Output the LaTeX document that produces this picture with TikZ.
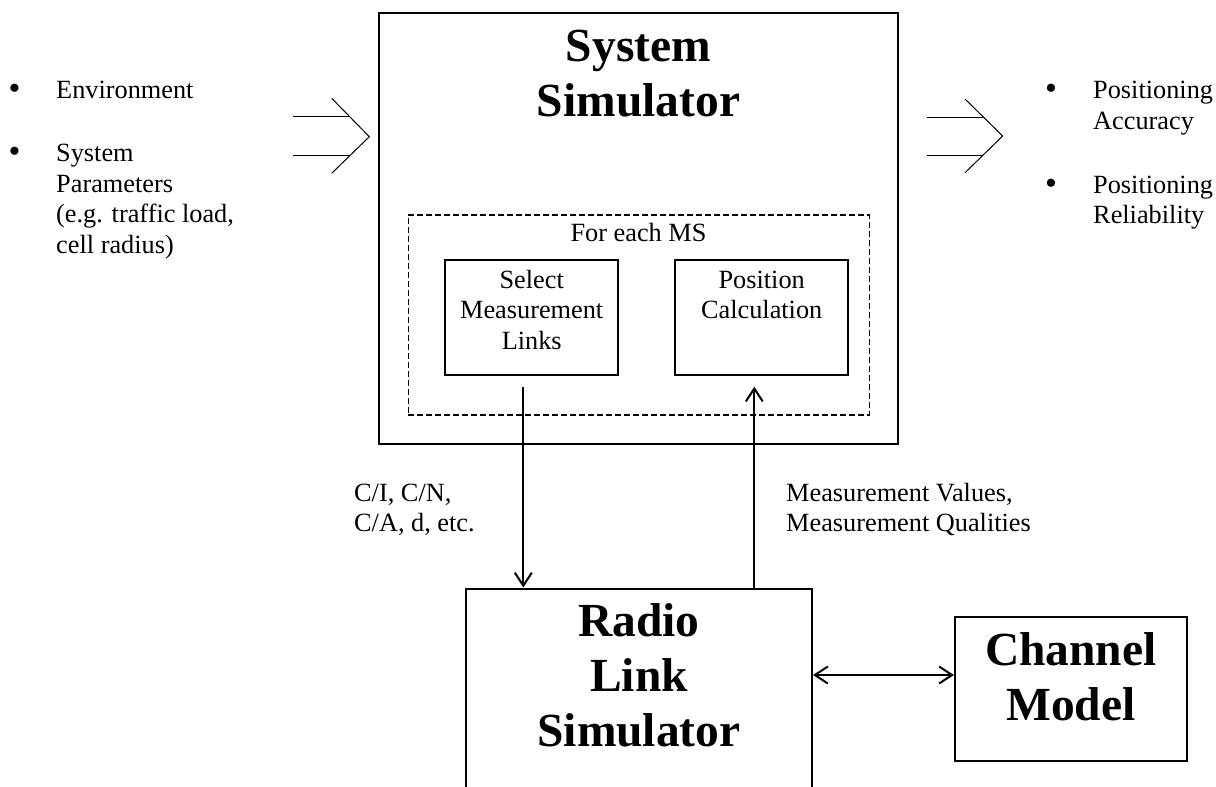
\documentclass[tikz,border=0pt]{standalone}
\usepackage{fontspec}
\setmainfont{Liberation Serif}
\usetikzlibrary{arrows.meta}
\tikzset{
  box/.style={draw, line width=2pt, inner sep=0pt},
  dbox/.style={draw, line width=1.2pt, dash pattern=on 6pt off 3pt, inner sep=0pt},
  small/.style={font=\fontsize{26.3}{30.5}\selectfont, inner sep=0pt},
  big/.style={font=\bfseries\fontsize{47.5}{55}\selectfont, inner sep=0pt, align=center},
  bul/.style={font=\fontsize{34}{34}\selectfont, inner sep=0pt},
  conn/.style={line width=2pt, -{Straight Barb[length=13pt,width=17pt]}},
  dconn/.style={line width=2pt, {Straight Barb[length=13pt,width=17pt]}-{Straight Barb[length=13pt,width=17pt]}},
  chev/.style={line width=1pt, line join=miter},
}
\begin{document}
\begin{tikzpicture}[x=1pt,y=-1pt]
\useasboundingbox (0,0) rectangle (1216,787);
\clip (0,0) rectangle (1216,787);

% boxes
\node[box, minimum width=519pt, minimum height=431pt] (sys) at (638.5,228.5) {};
\node[dbox, minimum width=461pt, minimum height=200pt] (each) at (638.8,315) {};
\node[box, minimum width=173.3pt, minimum height=114.5pt] (sel) at (531.7,317.7) {};
\node[box, minimum width=173.3pt, minimum height=114.5pt] (pos) at (761.7,317.7) {};
\node[box, minimum width=346pt, minimum height=241.5pt] (radio) at (639,709.25) {};
\node[box, minimum width=231.7pt, minimum height=143.7pt] (chan) at (1070.8,689.2) {};

% box texts (anchor base = baseline of the last line)
\node[big, anchor=base] (systxt) at (638.5,116.7) {System\\Simulator};
\node[small, anchor=base] (eachtxt) at (638.5,241.7) {For each MS};
\node[small, anchor=base, align=center] (seltxt) at (531.7,349) {Select\\Measurement\\Links};
\node[small, anchor=base, align=center] (postxt) at (761.7,318.5) {Position\\Calculation};
\node[big, anchor=base] (radiotxt) at (639,746.7) {Radio\\Link\\Simulator};
\node[big, anchor=base] (chantxt) at (1070.8,720) {Channel\\Model};

% left list
\node[bul] (b1) at (14.5,91.7) {•};
\node[bul] (b2) at (14.5,155) {•};
\node[small, anchor=base west] (env) at (56,98.3) {Environment};
\node[small, anchor=base west, align=left] (par) at (56,253.2) {System\\Parameters\\(e.g. traffic load,\\cell radius)};

% right list
\node[bul] (b3) at (1051,91.7) {•};
\node[bul] (b4) at (1051,186.7) {•};
\node[small, anchor=base west, align=left] (acc) at (1093,129.3) {Positioning\\Accuracy};
\node[small, anchor=base west, align=left] (rel) at (1093,223.8) {Positioning\\Reliability};

% connector labels
\node[small, anchor=base west, align=left] (lblL) at (354,531.6) {C/I, C/N,\\C/A, d, etc.};
\node[small, anchor=base west, align=left] (lblR) at (786,531.6) {Measurement Values,\\Measurement Qualities};

% input / output chevron arrows
\draw[chev] (293,116.7) -- (350,116.7);
\draw[chev] (293,155) -- (350,155);
\draw[chev] (331.7,98.3) -- (369.3,136.7) -- (331.7,173.3);
\draw[chev] (926.7,117) -- (983.3,117);
\draw[chev] (926.7,155) -- (983.3,155);
\draw[chev] (965,99) -- (1002.7,136) -- (965,172.7);

% connectors
\coordinate (dn) at (523.3,386.7);
\coordinate (up) at (754.3,386.7);
\draw[conn] (dn) -- (dn |- radio.north);
\draw[conn] (up |- radio.north) -- (up);
\draw[dconn] (radio.east |- 0,675) -- (chan.west |- 0,675);
\end{tikzpicture}
\end{document}
